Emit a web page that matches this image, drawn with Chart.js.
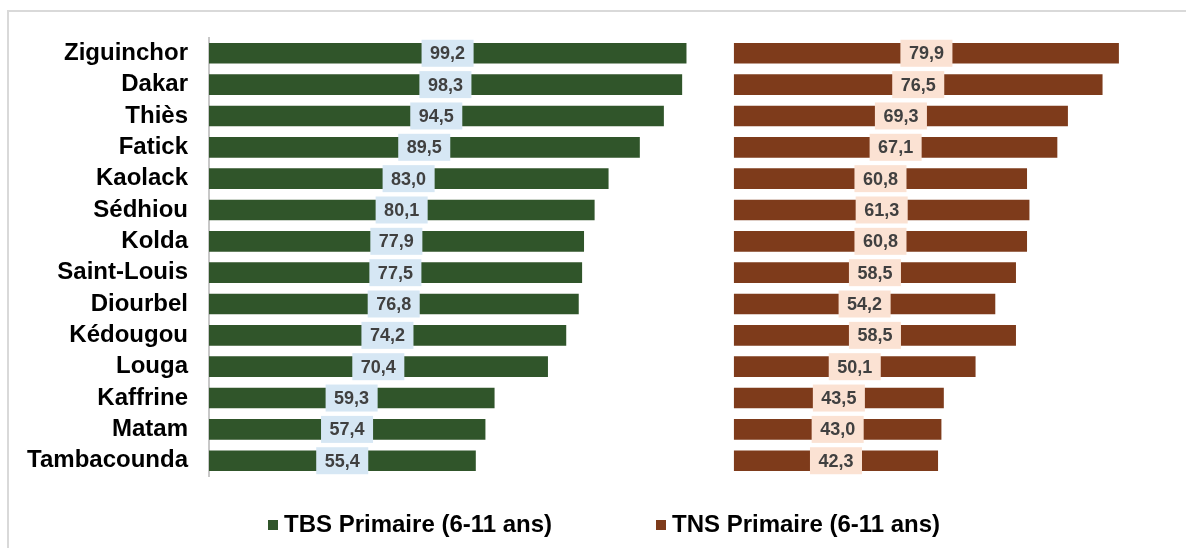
<!DOCTYPE html>
<html>
<head>
<meta charset="utf-8">
<script src="https://cdn.jsdelivr.net/npm/chart.js@4"></script>
<style>
  html, body { margin: 0; padding: 0; background: #fff; }
  #wrap { width: 1186px; height: 548px; position: relative; }
</style>
</head>
<body>
<div id="wrap"><canvas id="myChart" width="1186" height="548"></canvas></div>
<script>
const regions = ["Ziguinchor", "Dakar", "Thiès", "Fatick", "Kaolack", "Sédhiou", "Kolda",
  "Saint-Louis", "Diourbel", "Kédougou", "Louga", "Kaffrine", "Matam", "Tambacounda"];
const tbs = [99.2, 98.3, 94.5, 89.5, 83.0, 80.1, 77.9, 77.5, 76.8, 74.2, 70.4, 59.3, 57.4, 55.4];
const tns = [79.9, 76.5, 69.3, 67.1, 60.8, 61.3, 60.8, 58.5, 54.2, 58.5, 50.1, 43.5, 43.0, 42.3];
const seriesNames = ["TBS Primaire (6-11 ans)", "TNS Primaire (6-11 ans)"];

// the TNS panel starts further along the same axis
const tnsStart = 109.2;

const green = "#30552a";
const brown = "#7e3b1b";
const font = '"Liberation Sans", Arial, sans-serif';

const fmt = (v) => v.toFixed(1).replace(".", ",");

// value labels in small boxes centred on each bar
const boxLabels = {
  id: "boxLabels",
  afterDatasetsDraw(chart) {
    const c = chart.ctx;
    const sets = [
      { vals: tbs, fill: "#d6e7f4" },
      { vals: tns, fill: "#fbe2d3" },
    ];
    c.save();
    c.font = "bold 18px " + font;
    c.textAlign = "center";
    c.textBaseline = "middle";
    sets.forEach((s, di) => {
      chart.getDatasetMeta(di).data.forEach((bar, i) => {
        const cx = (bar.x + bar.base) / 2;
        const txt = fmt(s.vals[i]);
        const w = c.measureText(txt).width + 17;
        c.fillStyle = s.fill;
        c.fillRect(cx - w / 2, bar.y - 13.5, w, 27);
        c.fillStyle = "#404040";
        c.fillText(txt, cx, bar.y + 1);
      });
    });
    c.restore();
  },
};

// frame and legend
const frameLegend = {
  id: "frameLegend",
  beforeDraw(chart) {
    const c = chart.ctx;
    c.save();
    c.strokeStyle = "#d9d9d9";
    c.lineWidth = 2;
    c.beginPath();
    c.moveTo(8, 548);
    c.lineTo(8, 11);
    c.lineTo(1186, 11);
    c.stroke();
    c.restore();
  },
  afterDraw(chart) {
    const c = chart.ctx;
    const items = [
      { x: 268, color: green, text: seriesNames[0] },
      { x: 656, color: brown, text: seriesNames[1] },
    ];
    c.save();
    c.font = "bold 24px " + font;
    c.textBaseline = "middle";
    items.forEach((it) => {
      c.fillStyle = it.color;
      c.fillRect(it.x, 520, 10, 10);
      c.fillStyle = "#000";
      c.fillText(it.text, it.x + 16, 525);
    });
    c.restore();
  },
};

const ctx = document.getElementById("myChart");
const myChart = new Chart(ctx, {
  type: "bar",
  data: {
    labels: regions,
    datasets: [
      {
        label: seriesNames[0],
        data: tbs,
        backgroundColor: green,
        barThickness: 20,
      },
      {
        label: seriesNames[1],
        data: tns.map((v) => [tnsStart, tnsStart + v]),
        backgroundColor: brown,
        barThickness: 20,
      },
    ],
  },
  options: {
    indexAxis: "y",
    responsive: false,
    animation: false,
    datasets: { bar: { grouped: false } },
    layout: { padding: { left: 12, right: 15, top: 37.6, bottom: 71.6 } },
    plugins: {
      legend: { display: false },
      tooltip: { enabled: false },
    },
    scales: {
      x: {
        display: false,
        min: 0,
        max: 200,
      },
      y: {
        afterFit: (scale) => { scale.width = 197; },
        grid: { display: false, drawTicks: false },
        border: { display: true, color: "#c8c8c8", width: 2 },
        ticks: {
          autoSkip: false,
          padding: 21,
          color: "#000",
          font: { family: font, size: 24, weight: "bold" },
        },
      },
    },
  },
  plugins: [boxLabels, frameLegend],
});
</script>
</body>
</html>
